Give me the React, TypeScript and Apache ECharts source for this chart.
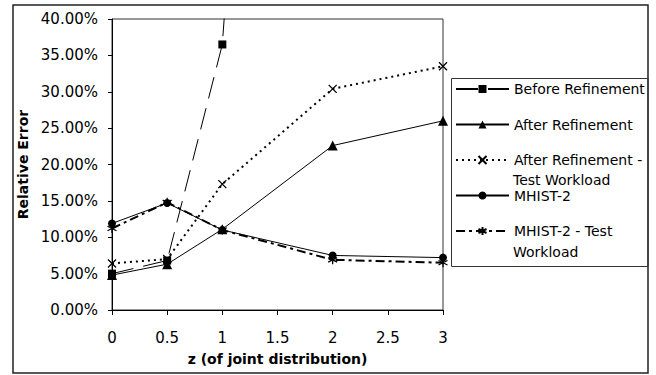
import React, { useEffect, useRef } from "react";
import * as echarts from "echarts";

const zValues = [0, 0.5, 1, 2, 3];
const xTicks = [0, 0.5, 1, 1.5, 2, 2.5, 3];
const beforeRefinement: (number | null)[] = [5.0, 6.8, 36.5, 250, null];
const afterRefinement = [4.8, 6.3, 11.1, 22.6, 26.0];
const afterRefinementTest = [6.4, 7.0, 17.3, 30.4, 33.5];
const mhist2 = [11.9, 14.7, 11.0, 7.5, 7.2];
const mhist2Test = [11.2, 14.8, 11.0, 6.9, 6.5];

const seriesNames = [
  "Before Refinement",
  "After Refinement",
  "After Refinement - Test Workload",
  "MHIST-2",
  "MHIST-2 - Test Workload",
];
const legendFirstLines: Record<string, string> = {
  "Before Refinement": "Before Refinement",
  "After Refinement": "After Refinement",
  "After Refinement - Test Workload": "After Refinement -",
  "MHIST-2": "MHIST-2",
  "MHIST-2 - Test Workload": "MHIST-2 - Test",
};

const FONT = "DejaVu Sans, Liberation Sans, Arial, sans-serif";

function pairs(vals: (number | null)[]) {
  return zValues.map((z, i) => [z, vals[i]]);
}

export default function App() {
  const ref = useRef<HTMLDivElement>(null);
  useEffect(() => {
    if (!ref.current) return;
    const chart = echarts.init(ref.current, null, { renderer: "svg" });
    const base = {
      type: "line",
      clip: true,
      showAllSymbol: true,
      connectNulls: false,
    };
    chart.setOption({
      animation: false,
      backgroundColor: "#ffffff",
      grid: {
        left: 112,
        right: 213,
        top: 19,
        bottom: 65,
        show: true,
        borderColor: "#333",
        borderWidth: 1,
        backgroundColor: "transparent",
      },
      legend: {
        orient: "vertical",
        left: 455,
        top: 82,
        itemWidth: 53,
        itemHeight: 10,
        itemGap: 21.5,
        padding: 0,
        textStyle: { fontFamily: FONT, fontSize: 14, color: "#000" },
        formatter: (name: string) => legendFirstLines[name] ?? name,
        data: seriesNames,
      },
      xAxis: {
        type: "value",
        min: 0,
        max: 3,
        interval: 0.5,
        name: "z (of joint distribution)",
        nameLocation: "middle",
        nameGap: 42,
        nameTextStyle: { fontFamily: FONT, fontSize: 14, fontWeight: "bold", color: "#000" },
        axisLine: { show: true, lineStyle: { color: "#000", width: 1 } },
        axisTick: { show: true, inside: false, length: 5, lineStyle: { color: "#000" } },
        axisLabel: {
          fontFamily: FONT,
          fontSize: 15,
          color: "#000",
          margin: 20,
          formatter: (v: number) => (xTicks.includes(v) ? String(v) : ""),
        },
        splitLine: { show: false },
      },
      yAxis: {
        type: "value",
        min: 0,
        max: 40,
        interval: 5,
        name: "Relative Error",
        nameLocation: "middle",
        nameGap: 77,
        nameTextStyle: { fontFamily: FONT, fontSize: 14, fontWeight: "bold", color: "#000" },
        axisLine: { show: true, lineStyle: { color: "#000", width: 1 } },
        axisTick: { show: true, inside: false, length: 4, lineStyle: { color: "#000" } },
        axisLabel: {
          fontFamily: FONT,
          fontSize: 15,
          color: "#000",
          margin: 14,
          formatter: (v: number) => v.toFixed(2) + "%",
        },
        splitLine: { show: false },
      },
      series: [
        {
          ...base,
          name: seriesNames[0],
          data: pairs(beforeRefinement),
          symbol: "rect",
          symbolSize: 8,
          itemStyle: { color: "#000" },
          lineStyle: { color: "#000", width: 1, type: [22, 10] },
        },
        {
          ...base,
          name: seriesNames[1],
          data: pairs(afterRefinement),
          symbol: "triangle",
          symbolSize: 10,
          itemStyle: { color: "#000" },
          lineStyle: { color: "#000", width: 1, type: "solid" },
        },
        {
          ...base,
          name: seriesNames[2],
          data: pairs(afterRefinementTest),
          symbol: "path://M0,0L10,10M10,0L0,10",
          symbolSize: 8,
          itemStyle: { color: "transparent", borderColor: "#000", borderWidth: 1.3 },
          lineStyle: { color: "#000", width: 2, type: [2, 4] },
        },
        {
          ...base,
          name: seriesNames[3],
          data: pairs(mhist2),
          symbol: "circle",
          symbolSize: 8,
          itemStyle: { color: "#000" },
          lineStyle: { color: "#000", width: 1, type: "solid" },
        },
        {
          ...base,
          name: seriesNames[4],
          data: pairs(mhist2Test),
          symbol: "path://M5,0L5,10M0.7,2.5L9.3,7.5M0.7,7.5L9.3,2.5",
          symbolSize: 9,
          itemStyle: { color: "transparent", borderColor: "#000", borderWidth: 1.3 },
          lineStyle: { color: "#000", width: 2, type: [9, 4, 3, 4] },
        },
      ],
      graphic: [
        {
          type: "rect",
          shape: { x: 13, y: 5, width: 635, height: 368 },
          style: { fill: "none", stroke: "#222", lineWidth: 1.5 },
          silent: true,
        },
        {
          type: "rect",
          shape: { x: 451.5, y: 78.5, width: 196.5, height: 188 },
          style: { fill: "none", stroke: "#333", lineWidth: 1 },
          silent: true,
        },
        {
          type: "text",
          x: 513,
          y: 179.5,
          style: { text: "Test Workload", font: `14px ${FONT}`, fill: "#000", verticalAlign: "middle" },
          silent: true,
        },
        {
          type: "text",
          x: 513,
          y: 251.5,
          style: { text: "Workload", font: `14px ${FONT}`, fill: "#000", verticalAlign: "middle" },
          silent: true,
        },
      ],
    });
    return () => chart.dispose();
  }, []);
  return (
    <div
      ref={ref}
      style={{ position: "absolute", left: 0, top: 0, width: 656, height: 375 }}
    />
  );
}
